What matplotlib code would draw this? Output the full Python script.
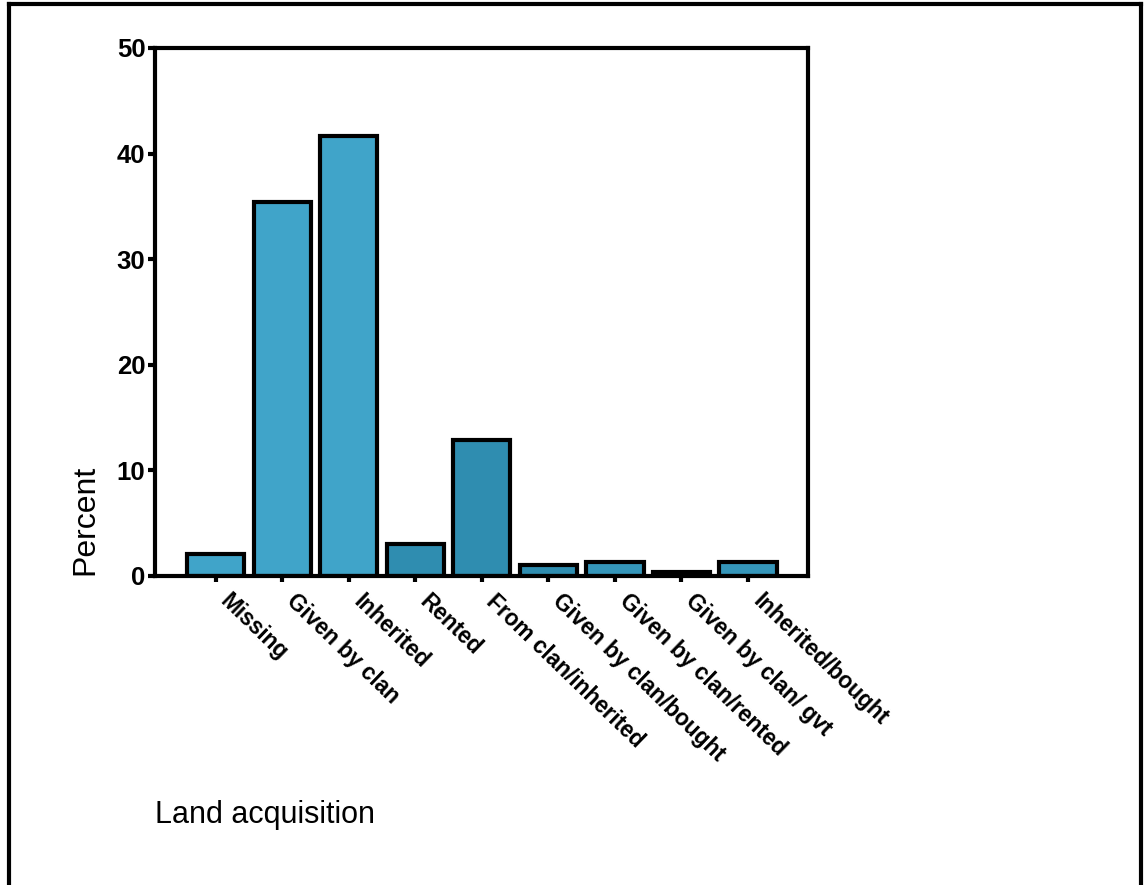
import matplotlib

matplotlib.use("Agg")
import matplotlib.pyplot as plt
import matplotlib.transforms as mtransforms

plt.rcParams["font.family"] = ["Liberation Sans", "DejaVu Sans"]

categories = [
    "Missing", "Given by clan", "Inherited", "Rented", "From clan/inherited",
    "Given by clan/bought", "Given by clan/rented", "Given by clan/ gvt",
    "Inherited/bought",
]
percent = [2.1, 35.4, 41.7, 3.0, 12.9, 1.0, 1.3, 0.4, 1.3]
y_ticks = [0, 10, 20, 30, 40, 50]

# scanned fill: lighter for the big bars, darker for the rest
bar_colors = ["#40a4c9", "#40a4c9", "#40a4c9", "#2f8db0", "#2f8db0",
              "#2f8db0", "#3596ba", "#2f8db0", "#3596ba"]

fig = plt.figure(figsize=(11.46, 8.85), dpi=100)
ax = fig.add_axes([0.1353, 0.3492, 0.5697, 0.5966])

xs = list(range(len(categories)))
ax.bar(xs, percent, width=0.86, color=bar_colors, edgecolor="black",
       linewidth=3, zorder=2)

ax.set_xlim(-0.91, len(categories) - 1 + 0.9)
ax.set_ylim(0, 50)
ax.set_yticks(y_ticks)
ax.set_yticklabels([str(t) for t in y_ticks], fontsize=18.5, fontweight="bold")
ax.set_xticks(xs)
ax.set_xticklabels([])
ax.tick_params(axis="y", length=5, width=3, pad=2)
ax.tick_params(axis="x", length=4, width=3)
for s in ax.spines.values():
    s.set_linewidth(3)

# rotated category labels hanging from each tick
off = mtransforms.ScaledTranslation(8 / 100, -22 / 100, fig.dpi_scale_trans)
for x, name in zip(xs, categories):
    ax.text(x, 0, name, rotation=-44, rotation_mode="anchor", ha="left",
            va="center", fontsize=16.3, fontweight="bold",
            transform=ax.transData + off)

fig.text(85 / 1146, 1 - 520 / 885, "Percent", rotation=90, fontsize=23,
         ha="center", va="center")
fig.text(155 / 1146, 1 - 815 / 885, "Land acquisition", fontsize=22,
         ha="left", va="center")

# page frame, open at the bottom
lw = 3
fig.add_artist(plt.Line2D([9 / 1146, 9 / 1146], [0, 1 - 4 / 885],
                          color="black", lw=lw, transform=fig.transFigure))
fig.add_artist(plt.Line2D([1141 / 1146, 1141 / 1146], [0, 1 - 4 / 885],
                          color="black", lw=lw, transform=fig.transFigure))
fig.add_artist(plt.Line2D([9 / 1146, 1141 / 1146], [1 - 4 / 885, 1 - 4 / 885],
                          color="black", lw=lw, transform=fig.transFigure))

fig.savefig("out.png", dpi=100)
